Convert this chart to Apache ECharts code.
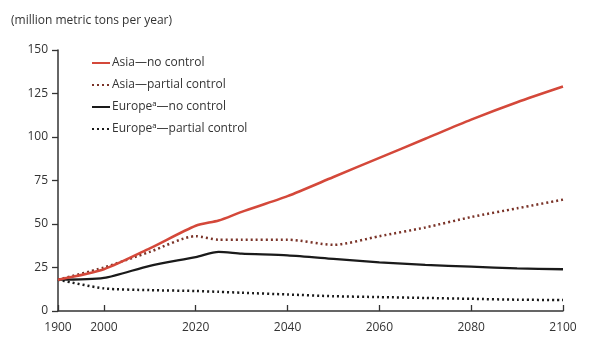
<!DOCTYPE html>
<html>
<head>
<meta charset="utf-8">
<script src="https://cdn.jsdelivr.net/npm/echarts@6/dist/echarts.min.js"></script>
<style>
  html, body { margin: 0; padding: 0; background: #fff; }
  #chart { width: 590px; height: 344px; }
</style>
</head>
<body>
<div id="chart"></div>
<script>
// Projected emissions, million metric tons per year
const years = [1990, 2000, 2010, 2020, 2025, 2030, 2040, 2050, 2060, 2070, 2080, 2090, 2100];
const asiaNoControl      = [18, 24, 36, 49, 52, 57, 66, 77, 88, 99, 110, 120, 129];
const asiaPartialControl = [18, 25, 34, 43, 41, 41, 41, 38, 43, 48, 54, 59, 64];
const europeNoControl    = [18, 19, 26, 31, 34, 33, 32, 30, 28, 26.5, 25.5, 24.5, 24];
const europePartialControl = [18, 13, 12, 11.5, 11, 10.5, 9.5, 8.5, 8, 7.5, 7, 6.5, 6.3];

const xTickValues = [1990, 2000, 2020, 2040, 2060, 2080, 2100];
const xTickLabels = ['1900', '2000', '2020', '2040', '2060', '2080', '2100'];

const seriesNames = ['Asia—no control', 'Asia—partial control', 'Europe\u1D43—no control', 'Europe\u1D43—partial control'];

const pair = arr => years.map((y, i) => [y, arr[i]]);
const FONT = '"Open Sans", "Noto Sans", sans-serif';

const chart = echarts.init(document.getElementById('chart'), null, { renderer: 'canvas' });

chart.setOption({
  animation: false,
  backgroundColor: '#fff',
  textStyle: { fontFamily: FONT },
  title: {
    text: '(million metric tons per year)',
    left: 6, top: 10,
    textStyle: { fontFamily: FONT, fontSize: 12, fontWeight: 'normal', color: '#333' }
  },
  legend: {
    orient: 'vertical',
    left: 86, top: 52,
    itemWidth: 18, itemHeight: 10, itemGap: 10,
    itemStyle: { opacity: 0 },
    textStyle: { fontFamily: FONT, fontSize: 12, color: '#333', padding: [0, 0, 0, -3] },
    data: seriesNames
  },
  grid: { left: 58, right: 27, top: 50, bottom: 33 },
  xAxis: {
    type: 'value', min: 1990, max: 2100,
    axisLine: { show: true, lineStyle: { color: '#333', width: 1.5 } },
    axisTick: { show: true, inside: true, length: 6, customValues: xTickValues, lineStyle: { color: '#333', width: 1.3 } },
    axisLabel: {
      customValues: xTickValues,
      formatter: v => xTickLabels[xTickValues.indexOf(v)] ?? '',
      fontFamily: FONT, fontSize: 12, color: '#333', margin: 11
    },
    splitLine: { show: false }
  },
  yAxis: {
    type: 'value', min: 0, max: 150, interval: 25,
    axisLine: { show: true, lineStyle: { color: '#333', width: 1.5 } },
    axisTick: { show: true, length: 6, lineStyle: { color: '#333', width: 1.3 } },
    axisLabel: { fontFamily: FONT, fontSize: 12, color: '#333', margin: 10 },
    splitLine: { show: false }
  },
  series: [
    {
      name: seriesNames[0], type: 'line', data: pair(asiaNoControl),
      showSymbol: false, symbol: 'none', smooth: 0.25, z: 4,
      lineStyle: { color: '#d4483a', width: 2.5 }, itemStyle: { color: '#d4483a' }
    },
    {
      name: seriesNames[1], type: 'line', data: pair(asiaPartialControl),
      showSymbol: false, symbol: 'none', smooth: 0.25, z: 3,
      lineStyle: { color: '#7a3328', width: 2.5, type: [2, 3] }, itemStyle: { color: '#b0453a' }
    },
    {
      name: seriesNames[2], type: 'line', data: pair(europeNoControl),
      showSymbol: false, symbol: 'none', smooth: 0.25, z: 2,
      lineStyle: { color: '#1a1a1a', width: 2.3 }, itemStyle: { color: '#1a1a1a' }
    },
    {
      name: seriesNames[3], type: 'line', data: pair(europePartialControl),
      showSymbol: false, symbol: 'none', smooth: 0.25, z: 1,
      lineStyle: { color: '#1a1a1a', width: 2.5, type: [2, 3] }, itemStyle: { color: '#1a1a1a' }
    }
  ]
});
</script>
</body>
</html>
